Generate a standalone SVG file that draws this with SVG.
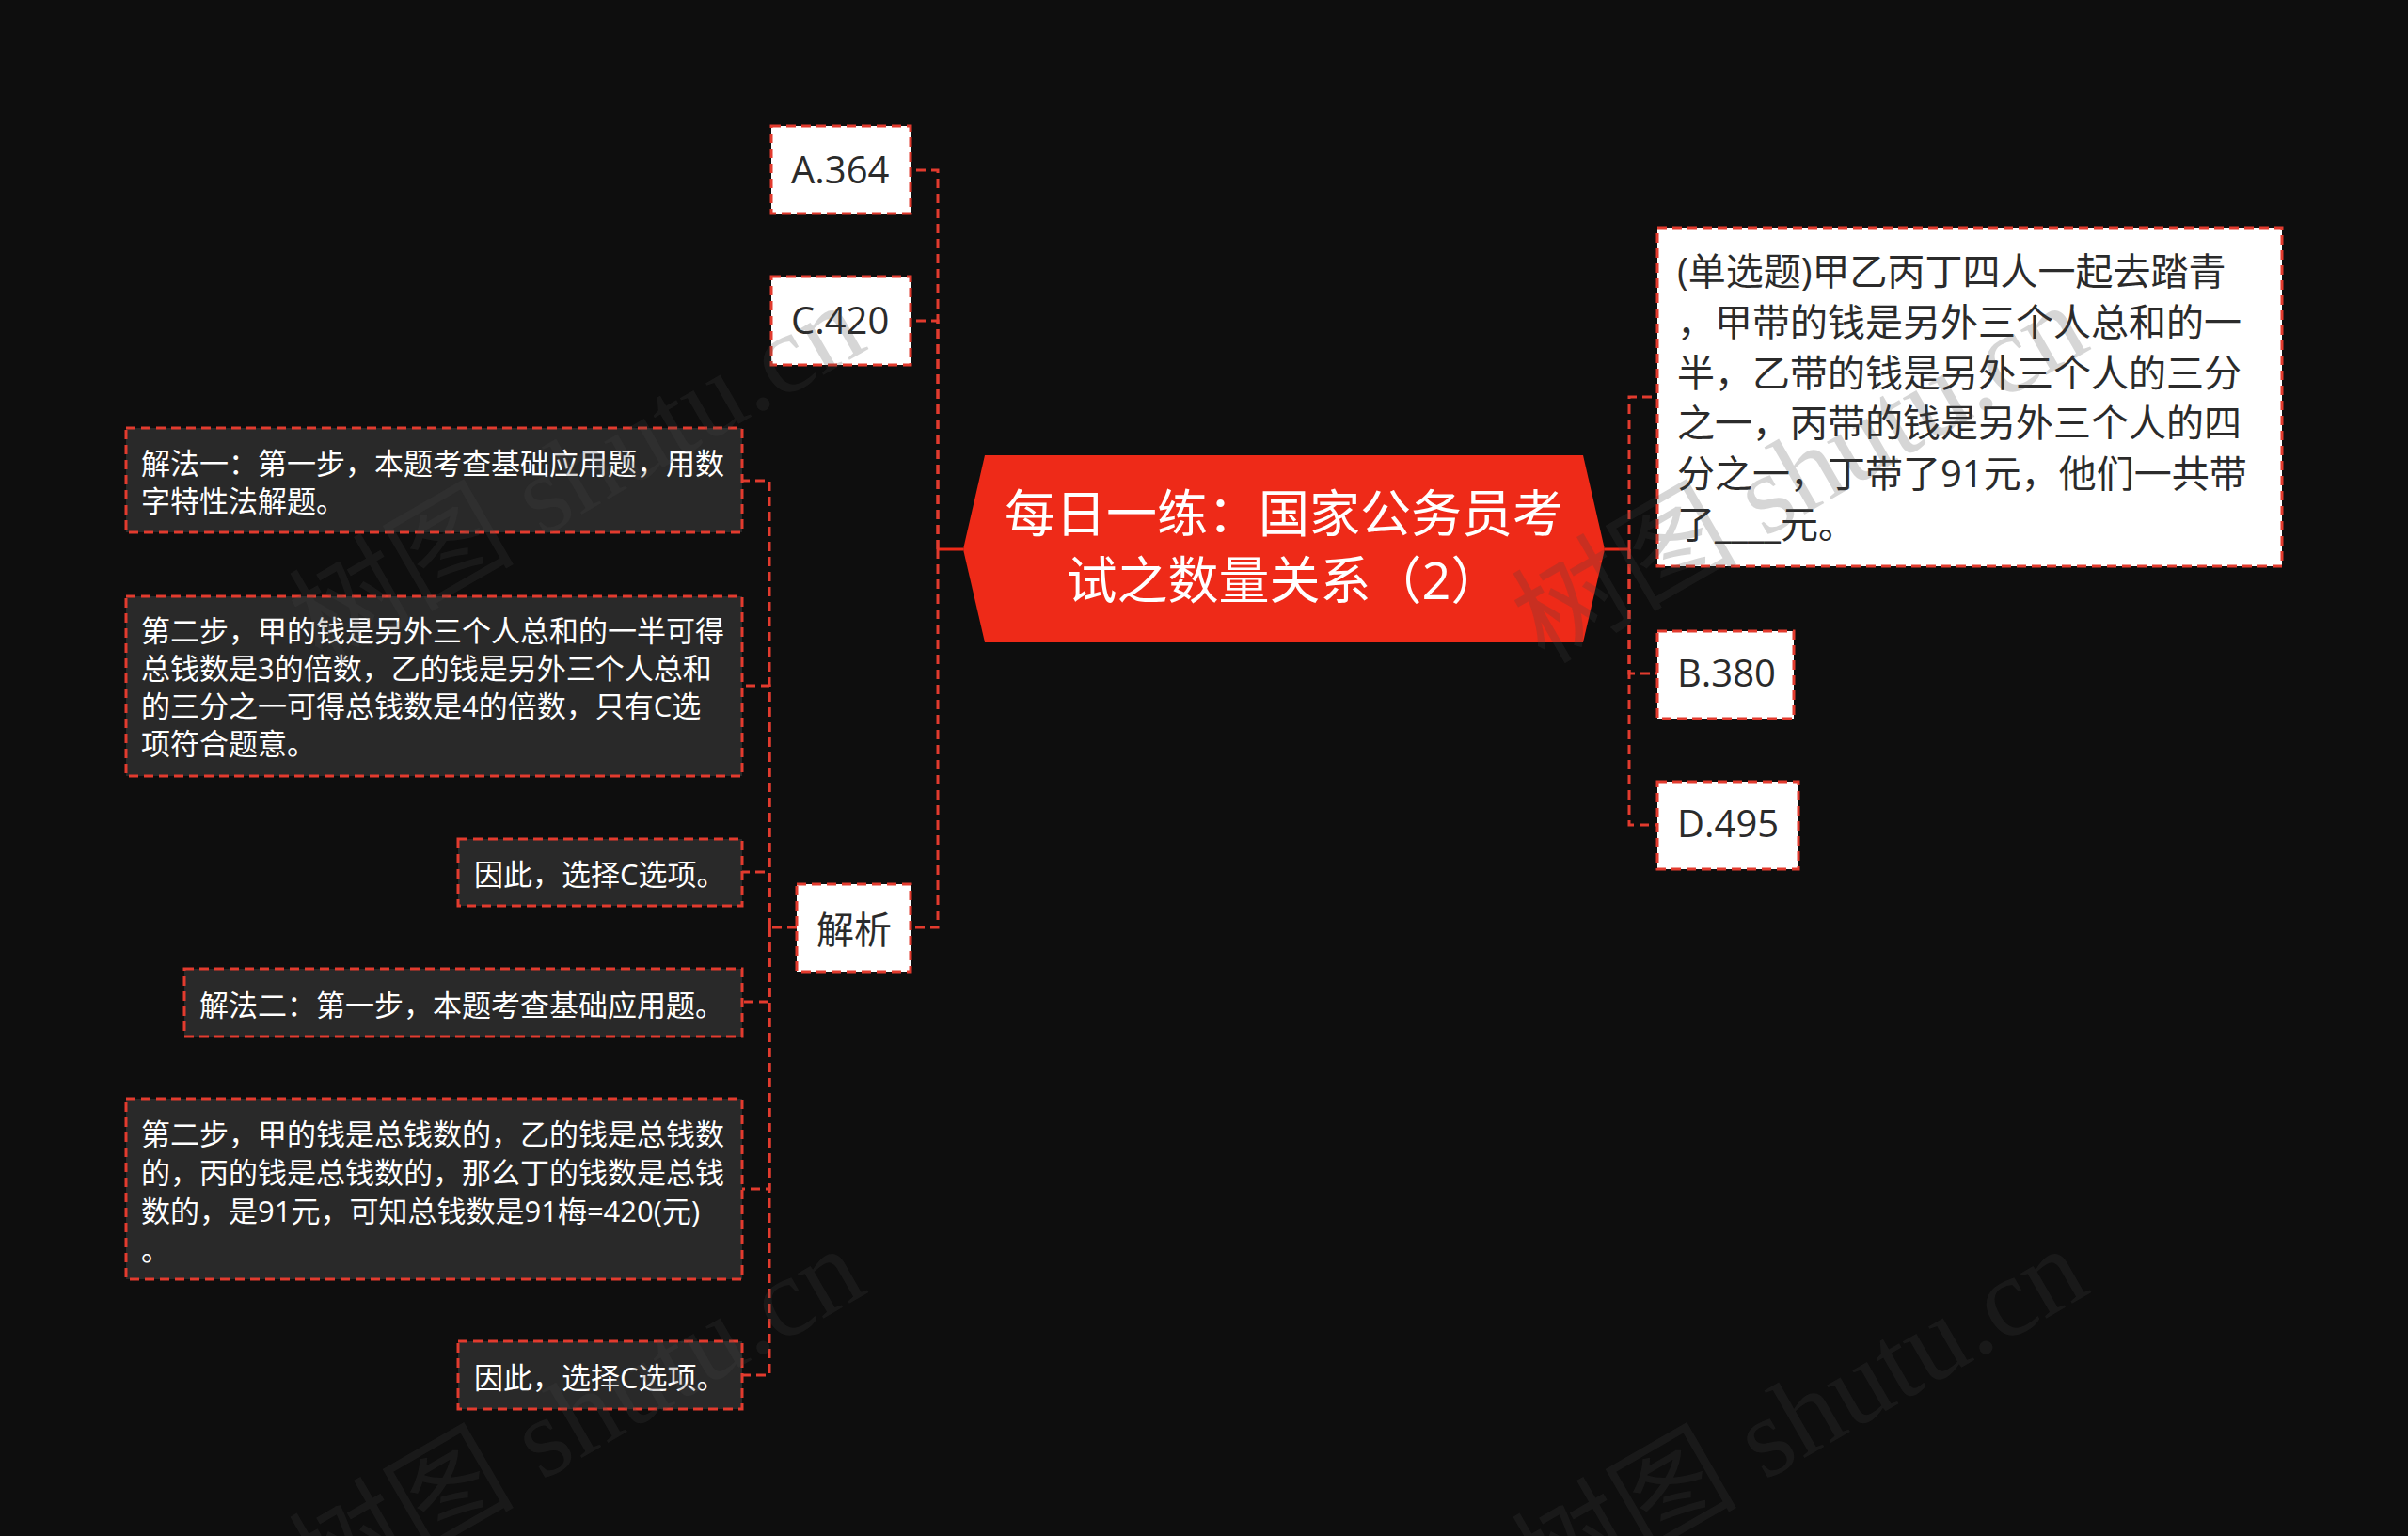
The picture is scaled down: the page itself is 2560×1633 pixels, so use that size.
<svg xmlns="http://www.w3.org/2000/svg" width="2560" height="1633" viewBox="0 0 2560 1633">
<defs>
<style>
.bg{fill:#0e0e0e}
.light{fill:#ffffff;stroke:#e23b2e;stroke-width:3;stroke-dasharray:10 6}
.dark{fill:#292929;stroke:#e23b2e;stroke-width:3;stroke-dasharray:10 6}
.conn{fill:none;stroke:#e23b2e;stroke-width:3;stroke-dasharray:10 6}
.solid{fill:none;stroke:#ee2a18;stroke-width:3}
.center{fill:#ee2a18}
.t{font-family:"Open Sans","Noto Sans CJK SC",sans-serif}
.tl{font-size:40px;fill:#2b2b2b}
.td{font-size:31px;fill:#ffffff}
.tc{font-size:54px;fill:#ffffff;text-anchor:middle}
.wm{font-family:"Liberation Serif","Noto Sans CJK SC",serif;font-size:120px;fill:#464646;fill-opacity:0.22;text-anchor:end}
</style>
</defs>
<rect class="bg" x="0" y="0" width="2560" height="1633"/>
<g id="connectors">
<path class="solid" d="M1024,584 H997"/>
<path class="conn" d="M997,584 V181 H968"/>
<path class="conn" d="M997,584 V341 H968"/>
<path class="conn" d="M997,584 V986 H968"/>
<path class="solid" d="M1706,584 H1732"/>
<path class="conn" d="M1732,584 V422 H1762"/>
<path class="conn" d="M1732,584 V716 H1762"/>
<path class="conn" d="M1732,584 V877 H1762"/>
<path class="conn" d="M847,986 H818"/>
<path class="conn" d="M818,986 V511 H789"/>
<path class="conn" d="M818,986 V729 H789"/>
<path class="conn" d="M818,986 V927 H789"/>
<path class="conn" d="M818,986 V1065 H789"/>
<path class="conn" d="M818,986 V1264 H789"/>
<path class="conn" d="M818,986 V1462 H789"/>
</g>
<g id="root">
<polygon class="center" points="1047,484 1683,484 1706,584 1683,683 1047,683 1024,584"/>
<text class="t tc" x="1365" y="566">每日一练：国家公务员考</text>
<text class="t tc" x="1365" y="637">试之数量关系（2）</text>
</g>
<g id="optA">
<rect class="light" x="820" y="134" width="148" height="93"/>
<text class="t tl" x="841" y="195">A.364</text>
</g>
<g id="optC">
<rect class="light" x="820" y="294" width="148" height="94"/>
<text class="t tl" x="841" y="355">C.420</text>
</g>
<g id="jiexi">
<rect class="light" x="847" y="940" width="121" height="93"/>
<text class="t tl" x="868" y="1003">解析</text>
</g>
<g id="question">
<rect class="light" x="1762" y="242" width="664" height="360"/>
<text class="t tl" x="1783" y="303">(单选题)甲乙丙丁四人一起去踏青</text>
<text class="t tl" x="1783" y="357">，甲带的钱是另外三个人总和的一</text>
<text class="t tl" x="1783" y="411">半，乙带的钱是另外三个人的三分</text>
<text class="t tl" x="1783" y="464">之一，丙带的钱是另外三个人的四</text>
<text class="t tl" x="1783" y="518">分之一，丁带了91元，他们一共带</text>
<text class="t tl" x="1783" y="572">了____元。</text>
</g>
<g id="optB">
<rect class="light" x="1762" y="671" width="145" height="93"/>
<text class="t tl" x="1783" y="730">B.380</text>
</g>
<g id="optD">
<rect class="light" x="1762" y="831" width="150" height="93"/>
<text class="t tl" x="1783" y="890">D.495</text>
</g>
<g id="step1">
<rect class="dark" x="134" y="455" width="655" height="111"/>
<text class="t td" x="150" y="504">解法一：第一步，本题考查基础应用题，用数</text>
<text class="t td" x="150" y="544">字特性法解题。</text>
</g>
<g id="step2">
<rect class="dark" x="134" y="634" width="655" height="191"/>
<text class="t td" x="150" y="682">第二步，甲的钱是另外三个人总和的一半可得</text>
<text class="t td" x="150" y="722">总钱数是3的倍数，乙的钱是另外三个人总和</text>
<text class="t td" x="150" y="762">的三分之一可得总钱数是4的倍数，只有C选</text>
<text class="t td" x="150" y="802">项符合题意。</text>
</g>
<g id="step3">
<rect class="dark" x="487" y="892" width="302" height="71"/>
<text class="t td" x="504" y="941">因此，选择C选项。</text>
</g>
<g id="step4">
<rect class="dark" x="196" y="1030" width="593" height="72"/>
<text class="t td" x="212" y="1080">解法二：第一步，本题考查基础应用题。</text>
</g>
<g id="step5">
<rect class="dark" x="134" y="1168" width="655" height="192"/>
<text class="t td" x="150" y="1217">第二步，甲的钱是总钱数的，乙的钱是总钱数</text>
<text class="t td" x="150" y="1258">的，丙的钱是总钱数的，那么丁的钱数是总钱</text>
<text class="t td" x="150" y="1299">数的，是91元，可知总钱数是91梅=420(元)</text>
<text class="t td" x="150" y="1340">。</text>
</g>
<g id="step6">
<rect class="dark" x="487" y="1426" width="302" height="72"/>
<text class="t td" x="504" y="1476">因此，选择C选项。</text>
</g>
<g id="watermark">
<text class="wm" transform="translate(925,370) rotate(-30)">树图 shutu.cn</text>
<text class="wm" transform="translate(2225,370) rotate(-30)">树图 shutu.cn</text>
<text class="wm" transform="translate(925,1373) rotate(-30)">树图 shutu.cn</text>
<text class="wm" transform="translate(2225,1373) rotate(-30)">树图 shutu.cn</text>
</g>
</svg>
